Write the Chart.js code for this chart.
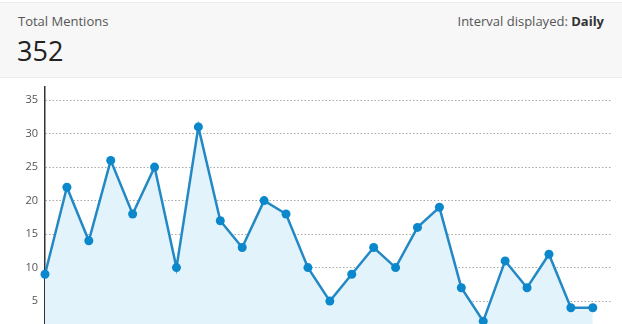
<!DOCTYPE html>
<html>
<head>
<meta charset="utf-8">
<script src="https://cdn.jsdelivr.net/npm/chart.js@4"></script>
<style>
  html, body { margin:0; padding:0; background:#fff; width:622px; height:324px; overflow:hidden; font-family:'Open Sans', sans-serif; }
  .head { position:absolute; left:0; top:2px; width:622px; height:74px; background:#f7f7f7; border-top:1px solid #ececec; border-bottom:1px solid #ececec; }
  .lbl { position:absolute; left:18px; top:9px; font-size:13px; line-height:18px; color:#555; }
  .total { position:absolute; left:17px; top:33px; font-size:27px; line-height:30px; color:#222; }
  .interval { position:absolute; right:18px; top:9px; font-size:13px; line-height:18px; color:#555; }
  .interval b { color:#333; }
  .wrap { position:absolute; left:0; top:78px; width:622px; height:270px; }
</style>
</head>
<body>
<div class="head">
  <div class="lbl">Total Mentions</div>
  <div class="total" id="total"></div>
  <div class="interval">Interval displayed: <b>Daily</b></div>
</div>
<div class="wrap"><canvas id="chart-mentions"></canvas></div>
<script>
// daily mention counts
const days = ['1','2','3','4','5','6','7','8','9','10','11','12','13','14','15','16','17','18','19','20','21','22','23','24','25','26'];
const mentions = [9, 22, 14, 26, 18, 25, 10, 31, 17, 13, 20, 18, 10, 5, 9, 13, 10, 16, 19, 7, 2, 11, 7, 12, 4, 4];
const yTicks = [0, 5, 10, 15, 20, 25, 30, 35];

document.getElementById('total').textContent = mentions.reduce((a, b) => a + b, 0);

const canvas = document.getElementById('chart-mentions');
new Chart(canvas, {
  type: 'line',
  data: {
    datasets: [{
      label: 'Mentions',
      data: mentions.map((v, i) => ({ x: i, y: v, day: days[i] })),
      borderColor: '#2389c4',
      borderWidth: 2.5,
      backgroundColor: '#e3f3fc',
      fill: 'origin',
      tension: 0,
      pointRadius: 4.5,
      pointBackgroundColor: '#0b87cc',
      pointBorderWidth: 0,
      clip: false,
    }]
  },
  options: {
    responsive: true,
    maintainAspectRatio: false,
    animation: false,
    layout: { padding: { top: 8.7, bottom: 13.4, left: 0, right: 9.5 } },
    plugins: { legend: { display: false }, tooltip: { enabled: false } },
    scales: {
      x: { type: 'linear', display: false, min: 0, max: 25.9 },
      y: {
        min: 0,
        max: 37,
        afterBuildTicks: s => { s.ticks = yTicks.map(v => ({ value: v })); },
        afterFit: s => { s.width = 45; s.paddingTop = 0; s.paddingBottom = 0; },
        ticks: {
          color: '#555',
          font: { family: 'Open Sans', size: 11 },
          padding: 7,
          callback: v => v === 0 ? '' : v,
        },
        grid: { color: '#a8a8a8', drawTicks: false },
        border: { display: true, color: '#333', width: 1.5, dash: [1.5, 2] },
      }
    }
  }
});
</script>
</body>
</html>
